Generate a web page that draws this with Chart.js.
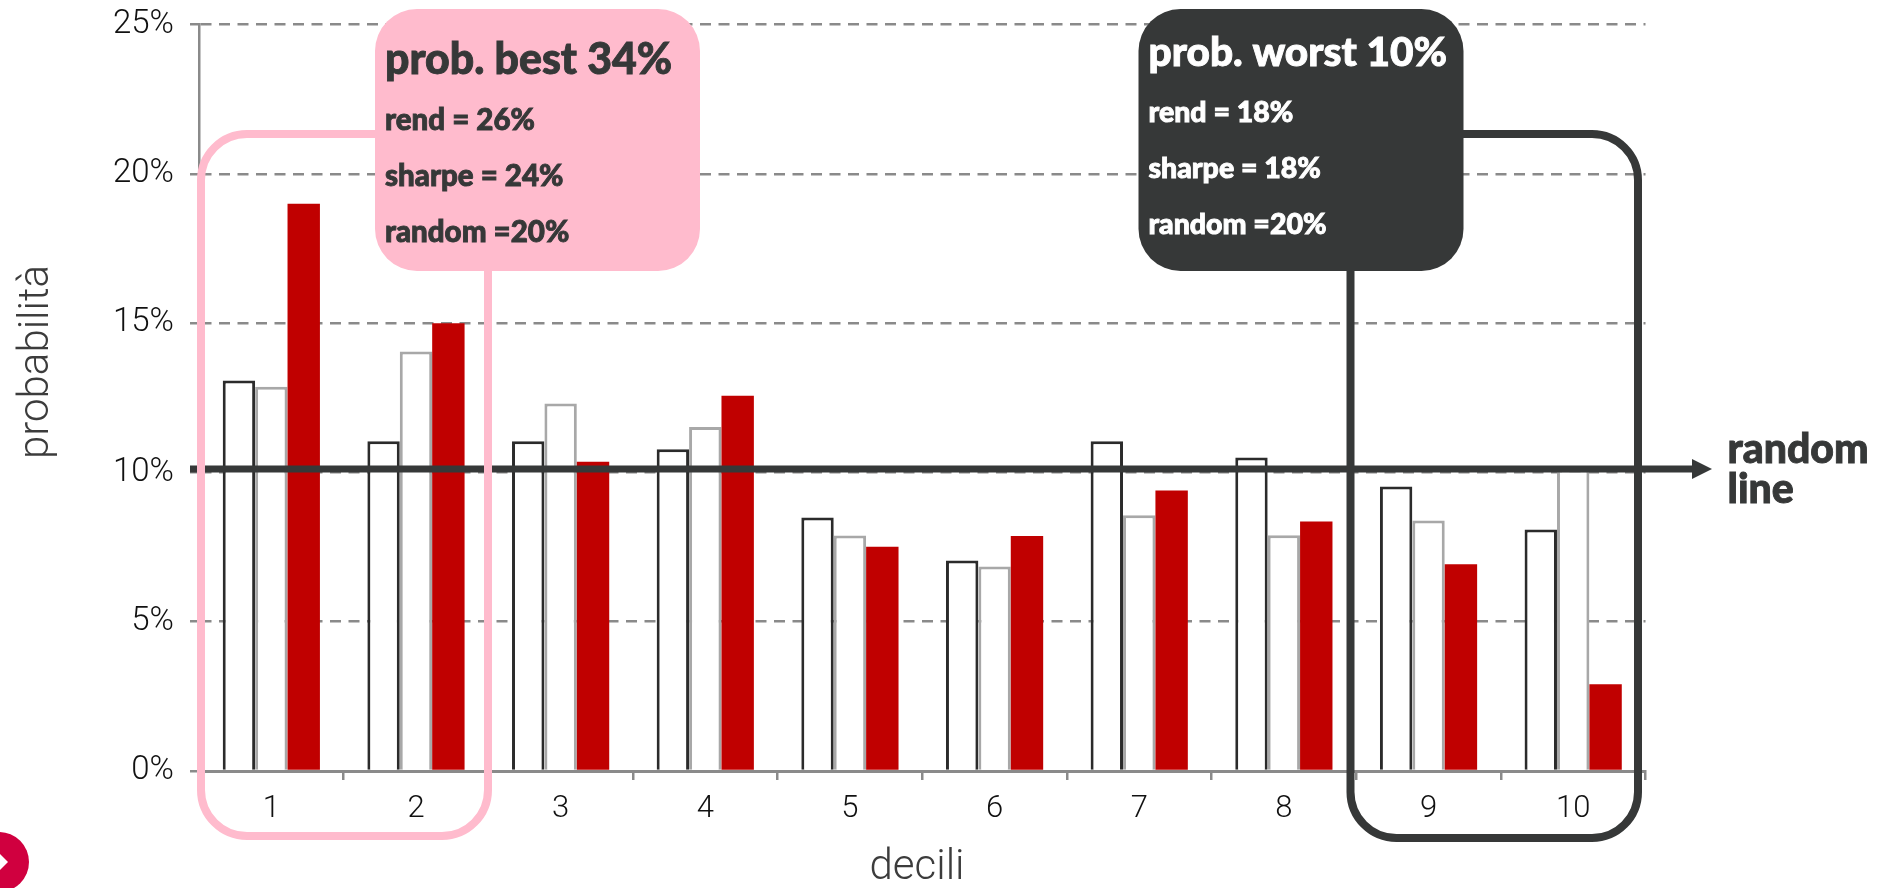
<!DOCTYPE html>
<html>
<head>
<meta charset="utf-8">
<title>decili</title>
<style>
  html, body { margin: 0; padding: 0; background: #fff; overflow: hidden; }
  #wrap { position: relative; width: 1885px; height: 888px; }
</style>
<script src="https://cdn.jsdelivr.net/npm/chart.js@4"></script>
</head>
<body>
<div id="wrap"><canvas id="chart" width="1885" height="888"></canvas></div>
<script>
const deciles = ['1', '2', '3', '4', '5', '6', '7', '8', '9', '10'];
const rend = [13.08, 11.05, 11.05, 10.78, 8.49, 7.05, 11.05, 10.5, 9.53, 8.09];
const sharpe = [12.87, 14.05, 12.31, 11.52, 7.89, 6.85, 8.57, 7.9, 8.39, 10.1];
const model = [19.0, 15.0, 10.36, 12.57, 7.51, 7.87, 9.4, 8.36, 6.93, 2.91];
const randomLevel = 10.12;
const yTicks = [0, 5, 10, 15, 20, 25];

const DARK = '#363838';
const PINK = '#ffbbcd';
const AXIS = '#8a8a8a';
const BOLD = '"Lato", sans-serif';
const LIGHT = '"Roboto", sans-serif';

function roundedBox(ctx, x, y, w, h, r) {
    ctx.beginPath();
    ctx.roundRect(x, y, w, h, r);
}

// Lato bold with a thin outline, a bit heavier than the plain weight
function heavyText(ctx, text, x, y, color) {
    ctx.fillStyle = color;
    ctx.strokeStyle = color;
    ctx.lineWidth = 0.9;
    ctx.fillText(text, x, y);
    ctx.strokeText(text, x, y);
}

// text block of a callout: headline and three rows
function callout(ctx, box, color, fill) {
    ctx.fillStyle = fill;
    roundedBox(ctx, box.x, 9, 325, 262, 42);
    ctx.fill();
    ctx.textAlign = 'left';
    ctx.textBaseline = 'alphabetic';
    ctx.font = '900 ' + box.titleSize + 'px ' + BOLD;
    heavyText(ctx, box.title, box.x + 10, box.titleY, color);
    ctx.font = '900 ' + box.rowSize + 'px ' + BOLD;
    box.rows.forEach((row, i) => {
        heavyText(ctx, row, box.x + 10, box.rowY + i * 56, color);
    });
}

const overlays = {
    id: 'overlays',
    // red drawn last so it sits over the outline bars, which overlap left to right
    beforeDatasetsDraw(chart) {
        [0, 1, 2].forEach(i => chart.getDatasetMeta(i).controller.draw());
        return false;
    },
    afterDraw(chart) {
        const ctx = chart.ctx;
        const y = chart.scales.y;
        const lineY = y.getPixelForValue(randomLevel);
        ctx.save();

        // random line with arrow head
        ctx.strokeStyle = DARK;
        ctx.fillStyle = DARK;
        ctx.lineWidth = 7;
        ctx.beginPath();
        ctx.moveTo(190, lineY);
        ctx.lineTo(1695, lineY);
        ctx.stroke();
        ctx.beginPath();
        ctx.moveTo(1692, lineY - 10);
        ctx.lineTo(1712, lineY);
        ctx.lineTo(1692, lineY + 10);
        ctx.closePath();
        ctx.fill();

        // frames round the first two and last two deciles
        ctx.lineWidth = 8;
        ctx.strokeStyle = PINK;
        roundedBox(ctx, 201, 134, 287, 702, 46);
        ctx.stroke();
        ctx.strokeStyle = DARK;
        roundedBox(ctx, 1350.5, 134, 287.5, 704, 46);
        ctx.stroke();

        callout(ctx, {
            x: 375, title: 'prob. best 34%', titleSize: 42.8, titleY: 74,
            rowSize: 29.5, rowY: 129.5,
            rows: ['rend = 26%', 'sharpe = 24%', 'random =20%']
        }, DARK, PINK);
        callout(ctx, {
            x: 1138.5, title: 'prob. worst 10%', titleSize: 40.6, titleY: 66,
            rowSize: 28.5, rowY: 121.7,
            rows: ['rend = 18%', 'sharpe = 18%', 'random =20%']
        }, '#ffffff', DARK);

        ctx.font = '900 41px ' + BOLD;
        heavyText(ctx, 'random', 1727.5, 463, DARK);
        heavyText(ctx, 'line', 1727.5, 503, DARK);

        // axis titles
        ctx.font = '300 42px ' + LIGHT;
        ctx.fillStyle = '#3c3c3c';
        ctx.textAlign = 'center';
        ctx.textBaseline = 'middle';
        ctx.fillText('decili', 917, 868);
        ctx.translate(37, 362);
        ctx.rotate(-Math.PI / 2);
        ctx.fillText('probabilità', 0, 0);
        ctx.rotate(Math.PI / 2);
        ctx.translate(-37, -362);

        // page marker in the corner
        ctx.fillStyle = '#d0003f';
        ctx.beginPath();
        ctx.arc(-1, 862, 30, 0, Math.PI * 2);
        ctx.fill();
        ctx.fillStyle = '#ffffff';
        ctx.beginPath();
        ctx.moveTo(-1, 853);
        ctx.lineTo(8, 862);
        ctx.lineTo(-1, 871);
        ctx.closePath();
        ctx.fill();
        ctx.restore();
    }
};

new Chart(document.getElementById('chart'), {
    type: 'bar',
    data: {
        labels: deciles,
        datasets: [
            { label: 'rend', data: rend, backgroundColor: '#ffffff', borderColor: '#2b2b2b', borderWidth: 3 },
            { label: 'sharpe', data: sharpe, backgroundColor: '#ffffff', borderColor: '#a8a8a8', borderWidth: 3 },
            { label: 'modello', data: model, backgroundColor: '#c00000', borderWidth: 0 }
        ]
    },
    options: {
        responsive: false,
        animation: false,
        layout: { padding: { top: 24.7, right: 239.5, left: 0, bottom: 0 } },
        plugins: { legend: { display: false }, tooltip: { enabled: false }, title: { display: false } },
        datasets: { bar: { categoryPercentage: 0.672, barPercentage: 1 } },
        scales: {
            x: {
                grid: { offset: true, drawOnChartArea: false, color: AXIS, lineWidth: 2.5, tickLength: 9 },
                border: { color: AXIS, width: 3 },
                ticks: { color: '#111', padding: 11, maxRotation: 0, font: { family: LIGHT, weight: '300', size: 31 } },
                afterFit(scale) { scale.height = 117; }
            },
            y: {
                min: 0,
                max: 25,
                afterBuildTicks(scale) { scale.ticks = yTicks.map(value => ({ value })); },
                grid: { color: AXIS, lineWidth: 2.5, tickLength: 9, tickColor: AXIS },
                border: { color: AXIS, width: 2.5, dash: [11, 7.5] },
                ticks: { color: '#111', padding: 16, font: { family: LIGHT, weight: '300', size: 33 }, callback: v => v + '%' },
                afterFit(scale) {
                    scale.width = 199;
                    // top label may stick out above the plot area
                    scale.paddingTop = 0;
                    scale.paddingBottom = 0;
                }
            }
        }
    },
    plugins: [overlays]
});
</script>
</body>
</html>
